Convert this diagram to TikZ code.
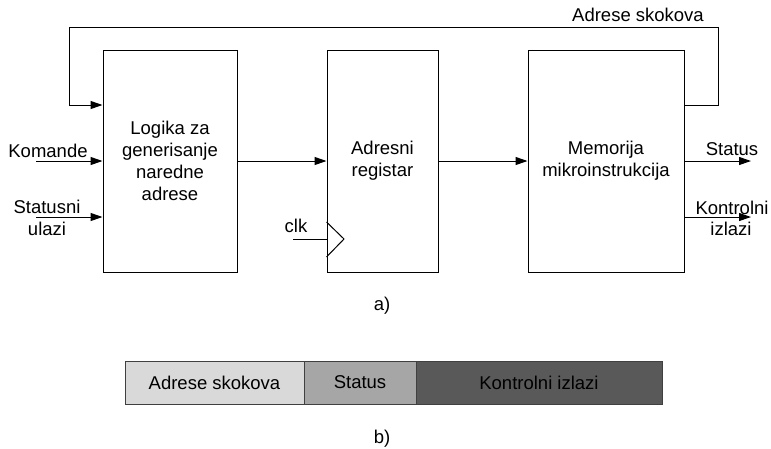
\documentclass[tikz,border=0pt]{standalone}
\usepackage{fontspec}
\setmainfont{Liberation Sans}
\usetikzlibrary{arrows.meta}
\definecolor{segA}{HTML}{D9D9D9}
\definecolor{segB}{HTML}{A6A6A6}
\definecolor{segC}{HTML}{595959}
\begin{document}
\begin{tikzpicture}[x=1pt,y=-1pt,
  font=\fontsize{18.5}{22}\selectfont,
  block/.style={draw=black,line width=1pt,minimum height=222pt,inner sep=0pt,align=center},
  wire/.style={line width=1pt,draw=black},
  arr/.style={wire,-{Triangle[length=12pt,width=8pt]}},
  lbl/.style={anchor=base,inner sep=0pt},
  seg/.style={draw=black!75,line width=1pt,minimum height=43pt,inner sep=0pt}]
\useasboundingbox (0,0) rectangle (771,448);

% main blocks
\node[block,minimum width=134pt] (logic) at (170,161) {Logika za\\generisanje\\naredne\\adrese};
\node[block,minimum width=111pt] (reg) at (382.5,161) {Adresni\\registar};
\node[block,minimum width=156pt] (mem) at (606,161) {Memorija\\mikroinstrukcija};

% free ends of the inputs and outputs
\coordinate (kin) at (36,161);
\coordinate (sin) at (36,217);
\coordinate (clkin) at (293,239);
\coordinate (sout) at (751,161);
\coordinate (kout) at (751,217);
\coordinate (fbr) at (718,105);
\coordinate (fbtr) at (718,27);
\coordinate (fbtl) at (69,27);
\coordinate (fbl) at (69,105);

% data path
\draw[arr] (logic.east |- kin) -- (reg.west |- kin);
\draw[arr] (reg.east |- kin) -- (mem.west |- kin);

% inputs
\draw[arr] (kin) -- (logic.west |- kin);
\draw[arr] (sin) -- (logic.west |- sin);
\draw[wire] (clkin) -- (reg.west |- clkin);
\draw[wire] (326.5,222) -- (344,239) -- (326.5,257);

% outputs
\draw[arr] (mem.east |- sout) -- (sout);
\draw[arr] (mem.east |- kout) -- (kout);

% jump address feedback
\draw[arr] (mem.east |- fbr) -- (fbr) -- (fbtr) -- (fbtl) -- (fbl) -- (logic.west |- fbl);

% labels
\node[lbl] (lkom) at (48,157) {Komande};
\node[lbl] (lst1) at (47,213) {Statusni};
\node[lbl] (lst2) at (47,235) {ulazi};
\node[lbl] (lclk) at (296,232) {clk};
\node[lbl] (lstat) at (732,155) {Status};
\node[lbl] (lko1) at (732,214) {Kontrolni};
\node[lbl] (lko2) at (731,235) {izlazi};
\node[lbl] (ljump) at (638,21) {Adrese skokova};
\node[lbl] (la) at (382,310) {a)};
\node[lbl] (lb) at (382,443) {b)};

% microinstruction format
\node[seg,fill=segA,minimum width=179pt] (fa) at (214.5,382.5) {Adrese skokova};
\node[seg,fill=segB,minimum width=112pt] (fs) at (360,382.5) {Status};
\node[seg,fill=segC,minimum width=246pt] (fk) at (539,382.5) {Kontrolni izlazi};
\end{tikzpicture}
\end{document}
